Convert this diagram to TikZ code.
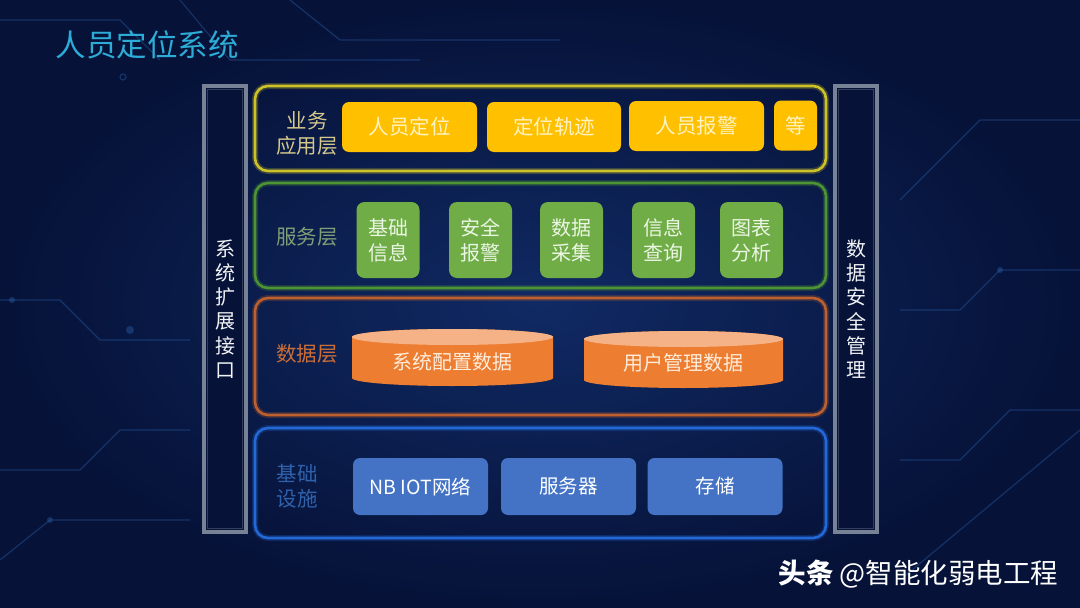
\documentclass[tikz,border=0pt]{standalone}
\usepackage{fontspec}
\setmainfont{Noto Sans CJK SC}
\usepackage{tikz}
\usepackage{xcolor}
\usetikzlibrary{positioning}

\definecolor{bgdark}{RGB}{6,18,56}
\definecolor{bgmid}{RGB}{16,42,100}
\definecolor{trace}{RGB}{40,90,160}
\definecolor{titlecyan}{RGB}{45,172,215}
\definecolor{barline}{RGB}{120,130,150}
\definecolor{appline}{RGB}{205,195,40}
\definecolor{appfill}{RGB}{255,192,0}
\definecolor{apptext}{RGB}{255,242,195}
\definecolor{applabel}{RGB}{212,200,140}
\definecolor{svcline}{RGB}{78,148,50}
\definecolor{svcfill}{RGB}{112,173,71}
\definecolor{svctext}{RGB}{236,246,228}
\definecolor{svclabel}{RGB}{128,158,118}
\definecolor{dataline}{RGB}{190,96,45}
\definecolor{datafill}{RGB}{237,125,49}
\definecolor{datatop}{RGB}{245,178,134}
\definecolor{datatext}{RGB}{255,236,218}
\definecolor{datalabel}{RGB}{205,110,55}
\definecolor{baseline}{RGB}{35,105,215}
\definecolor{basefill}{RGB}{68,114,196}
\definecolor{baselabel}{RGB}{48,98,172}

\tikzset{
  layer/.style={draw=#1, line width=2.6pt, rounded corners=13pt, minimum width=571pt, inner sep=0pt},
  glow/.style={draw=#1, line width=6pt, rounded corners=13pt, opacity=0.25, minimum width=571pt, inner sep=0pt},
  appbox/.style={fill=appfill, rounded corners=7pt, minimum height=50pt, inner sep=0pt,
    text=apptext, font=\fontsize{20.5}{24}\selectfont},
  svcbox/.style={fill=svcfill, rounded corners=8pt, minimum width=63pt, minimum height=76pt, inner sep=0pt,
    text=svctext, align=center, font=\fontsize{20}{25}\selectfont},
  basebox/.style={fill=basefill, rounded corners=7pt, minimum width=135pt, minimum height=57pt, inner sep=0pt,
    text=white, font=\fontsize{19.5}{23}\selectfont},
  lbl/.style={align=center, font=\fontsize{20.5}{25}\selectfont},
  sidebar/.style={draw=barline, line width=3.5pt, fill=bgdark, minimum width=42pt, minimum height=446pt, inner sep=0pt},
  sidetext/.style={align=center, text=white!90!barline, font=\fontsize{20}{24.3}\selectfont},
}

\begin{document}
\begin{tikzpicture}[x=1pt,y=-1pt]
  % background
  \useasboundingbox (0,0) rectangle (1080,608);
  \shade[inner color=bgmid, outer color=bgdark] (0,0) rectangle (1080,608);
  \begin{scope}[trace, line width=1.2pt, opacity=0.45]
    \draw (180,0) -- (230,60) -- (420,60);
    \draw (290,0) -- (340,40) -- (560,40);
    \draw (0,20) -- (120,20) -- (160,60);
    \draw (1080,120) -- (980,120) -- (900,200);
    \draw (1080,270) -- (1000,270) -- (960,310) -- (900,310);
    \draw (0,300) -- (60,300) -- (100,340) -- (190,340);
    \draw (0,560) -- (50,520) -- (190,520);
    \draw (0,470) -- (80,470) -- (120,430) -- (190,430);
    \draw (900,460) -- (960,460) -- (1010,410) -- (1080,410);
    \draw (900,580) -- (1080,430);
    \fill (130,330) circle (4pt);
    \fill (12,300) circle (3pt);
    \fill (50,520) circle (3pt);
    \fill (1000,270) circle (3pt);
    \draw (123,77) circle (3pt);
  \end{scope}

  % title
  \node[anchor=west, text=titlecyan, font=\fontsize{30.5}{34}\selectfont] (title) at (52,45) {人员定位系统};

  % side bars
  \node[sidebar] (extbar) at (225,309) {};
  \draw[bgdark!60!barline, line width=0.8pt] (207.5,89.5) rectangle (242.5,528.5);
  \node[sidetext] (exttext) at (225,309) {系\\统\\扩\\展\\接\\口};
  \node[sidebar] (secbar) at (856,309) {};
  \draw[bgdark!60!barline, line width=0.8pt] (838.5,89.5) rectangle (873.5,528.5);
  \node[sidetext] (sectext) at (856,309) {数\\据\\安\\全\\管\\理};

  % application layer
  \node[glow=appline, minimum height=85pt] at (540.5,128.5) {};
  \node[layer=appline, minimum height=85pt] (applayer) at (540.5,128.5) {};
  \node[lbl, text=applabel] (applbl) at (307,133) {业务\\应用层};
  \node[appbox, minimum width=135pt] (locate) at (409.5,127) {人员定位};
  \node[appbox, minimum width=134pt] (track) at (554,127) {定位轨迹};
  \node[appbox, minimum width=135pt] (alarm) at (696.5,126) {人员报警};
  \node[appbox, minimum width=43pt] (etc) at (795.5,125.5) {等};

  % service layer
  \node[glow=svcline, minimum height=105pt] at (540.5,235.5) {};
  \node[layer=svcline, minimum height=105pt] (svclayer) at (540.5,235.5) {};
  \node[lbl, text=svclabel] (svclbl) at (307,237) {服务层};
  \node[svcbox] (basic) at (388,240) {基础\\信息};
  \node[svcbox] (safety) at (480.5,240) {安全\\报警};
  \node[svcbox] (collect) at (571.5,240) {数据\\采集};
  \node[svcbox] (query) at (663.5,240) {信息\\查询};
  \node[svcbox] (chart) at (751.5,240) {图表\\分析};

  % data layer
  \node[glow=dataline, minimum height=117pt] at (540.5,356.5) {};
  \node[layer=dataline, minimum height=117pt] (datalayer) at (540.5,356.5) {};
  \node[lbl, text=datalabel] (datalbl) at (307,354) {数据层};
  \fill[datafill] (352,337) -- (352,378) arc (180:0:100.5 and 8) -- (553,337) arc (0:-180:100.5 and 8) -- cycle;
  \fill[datatop] (452.5,337) ellipse (100.5 and 8);
  \node[text=datatext, font=\fontsize{20}{24}\selectfont] (sysdata) at (452.5,362) {系统配置数据};
  \fill[datafill] (584,339) -- (584,380) arc (180:0:99.5 and 8) -- (783,339) arc (0:-180:99.5 and 8) -- cycle;
  \fill[datatop] (683.5,339) ellipse (99.5 and 8);
  \node[text=datatext, font=\fontsize{20}{24}\selectfont] (userdata) at (683.5,363) {用户管理数据};

  % infrastructure layer
  \node[glow=baseline, minimum height=110pt] at (540.5,483) {};
  \node[layer=baseline, minimum height=110pt] (baselayer) at (540.5,483) {};
  \node[lbl, text=baselabel] (baselbl) at (297,486) {基础\\设施};
  \node[basebox] (nbiot) at (420.5,486.5) {NB IOT网络};
  \node[basebox] (server) at (568.5,486.5) {服务器};
  \node[basebox] (storage) at (715,486.5) {存储};

  % watermark
  \node[anchor=east, text=white, font=\fontsize{27.5}{30}\selectfont] (mark) at (1062,574) {\textbf{头条} @智能化弱电工程};
\end{tikzpicture}
\end{document}
